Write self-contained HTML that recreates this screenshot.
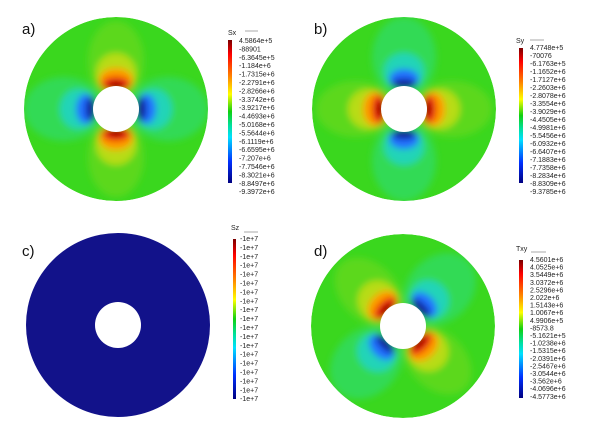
<!DOCTYPE html>
<html style="margin:0;padding:0;overflow:hidden;width:600px;height:434px"><head><meta charset="utf-8"><style>
body{margin:0;padding:0;background:#fff;width:600px;height:434px;overflow:hidden}
svg{display:block}
.lb{font-family:"Liberation Sans",sans-serif;font-size:7px;fill:#222}
.pl{font-family:"Liberation Sans",sans-serif;font-size:15px;fill:#111}
</style></head><body>
<svg width="600" height="434" viewBox="0 0 600 434" style="position:absolute;left:0;top:0;overflow:hidden">
<defs>
<filter id="bl" x="-20%" y="-20%" width="140%" height="140%"><feGaussianBlur stdDeviation="3.5"/></filter>
<clipPath id="cp"><circle cx="0" cy="0" r="92"/></clipPath>
<linearGradient id="cb" x1="0" y1="0" x2="0" y2="1">
<stop offset="0" stop-color="#7a0000"/><stop offset="0.1" stop-color="#ff0000"/>
<stop offset="0.25" stop-color="#ff8000"/><stop offset="0.38" stop-color="#ffff00"/>
<stop offset="0.5" stop-color="#10d010"/><stop offset="0.6" stop-color="#00e0a0"/>
<stop offset="0.68" stop-color="#00e0ff"/><stop offset="0.85" stop-color="#0030ff"/>
<stop offset="1" stop-color="#000080"/></linearGradient>
<g id="field">
<g clip-path="url(#cp)">
<circle r="92" fill="#3ad71e"/>
<g filter="url(#bl)">
<ellipse cx="0" cy="-48" rx="28" ry="40" fill="#5cd81c"/>
<ellipse cx="0" cy="48" rx="28" ry="40" fill="#5cd81c"/>
<ellipse cx="-52" cy="0" rx="40" ry="32" fill="#30da55"/>
<ellipse cx="52" cy="0" rx="40" ry="32" fill="#30da55"/>
<ellipse cx="0" cy="-36" rx="20" ry="20" fill="#b8dc14"/>
<ellipse cx="0" cy="36" rx="20" ry="20" fill="#b8dc14"/>
<ellipse cx="0" cy="-29" rx="17" ry="12" fill="#ff9a00"/>
<ellipse cx="0" cy="29" rx="17" ry="12" fill="#ff9a00"/>
<ellipse cx="0" cy="-25" rx="14" ry="7" fill="#e81010"/>
<ellipse cx="0" cy="25" rx="14" ry="7" fill="#e81010"/>
<ellipse cx="0" cy="-23" rx="8" ry="4" fill="#900000"/>
<ellipse cx="0" cy="23" rx="8" ry="4" fill="#900000"/>
<ellipse cx="-38" cy="0" rx="18" ry="20" fill="#20d4b8"/>
<ellipse cx="38" cy="0" rx="18" ry="20" fill="#20d4b8"/>
<ellipse cx="-30" cy="0" rx="10" ry="15" fill="#2070ff"/>
<ellipse cx="30" cy="0" rx="10" ry="15" fill="#2070ff"/>
<ellipse cx="-25" cy="0" rx="5" ry="12" fill="#0a0a90"/>
<ellipse cx="25" cy="0" rx="5" ry="12" fill="#0a0a90"/>
</g>
<circle r="23" fill="#fff"/>
</g>
</g>
</defs>

<text class="pl" x="22" y="34">a)</text>
<use href="#field" transform="translate(116,109)"/>
<text class="pl" x="314" y="34">b)</text>
<use href="#field" transform="translate(404,109) rotate(90)"/>
<text class="pl" x="22" y="256">c)</text>
<circle cx="118" cy="325" r="92" fill="#12128a"/>
<circle cx="118" cy="325" r="23" fill="#fff"/>
<text class="pl" x="314" y="256">d)</text>
<use href="#field" transform="translate(403,326) rotate(-45)"/>

<text class="lb" x="228" y="35">Sx</text><line x1="245" y1="31" x2="258" y2="31" stroke="#aaa"/>
<rect x="228" y="40" width="4" height="143" fill="url(#cb)"/>
<g class="lb">
<text x="239" y="43">4.5864e+5</text><text x="239" y="51.4">-88901</text><text x="239" y="59.8">-6.3645e+5</text><text x="239" y="68.2">-1.184e+6</text><text x="239" y="76.6">-1.7315e+6</text><text x="239" y="85">-2.2791e+6</text><text x="239" y="93.4">-2.8266e+6</text><text x="239" y="101.8">-3.3742e+6</text><text x="239" y="110.2">-3.9217e+6</text><text x="239" y="118.6">-4.4693e+6</text><text x="239" y="127">-5.0168e+6</text><text x="239" y="135.4">-5.5644e+6</text><text x="239" y="143.8">-6.1119e+6</text><text x="239" y="152.2">-6.6595e+6</text><text x="239" y="160.6">-7.207e+6</text><text x="239" y="169">-7.7546e+6</text><text x="239" y="177.4">-8.3021e+6</text><text x="239" y="185.8">-8.8497e+6</text><text x="239" y="194.2">-9.3972e+6</text>
</g>
<text class="lb" x="516" y="43">Sy</text><line x1="530" y1="40" x2="544" y2="40" stroke="#aaa"/>
<rect x="519" y="48" width="4" height="135" fill="url(#cb)"/>
<g class="lb">
<text x="530" y="50">4.7748e+5</text><text x="530" y="58">-70076</text><text x="530" y="66">-6.1763e+5</text><text x="530" y="74">-1.1652e+6</text><text x="530" y="82">-1.7127e+6</text><text x="530" y="90">-2.2603e+6</text><text x="530" y="98">-2.8078e+6</text><text x="530" y="106">-3.3554e+6</text><text x="530" y="114">-3.9029e+6</text><text x="530" y="122">-4.4505e+6</text><text x="530" y="130">-4.9981e+6</text><text x="530" y="138">-5.5456e+6</text><text x="530" y="146">-6.0932e+6</text><text x="530" y="154">-6.6407e+6</text><text x="530" y="162">-7.1883e+6</text><text x="530" y="170">-7.7358e+6</text><text x="530" y="178">-8.2834e+6</text><text x="530" y="186">-8.8309e+6</text><text x="530" y="194">-9.3785e+6</text>
</g>
<text class="lb" x="231" y="230">Sz</text><line x1="244" y1="232" x2="258" y2="232" stroke="#aaa"/>
<rect x="233" y="239" width="3" height="160" fill="url(#cb)"/>
<g class="lb">
<text x="240" y="241">-1e+7</text><text x="240" y="249.9">-1e+7</text><text x="240" y="258.8">-1e+7</text><text x="240" y="267.7">-1e+7</text><text x="240" y="276.6">-1e+7</text><text x="240" y="285.5">-1e+7</text><text x="240" y="294.4">-1e+7</text><text x="240" y="303.3">-1e+7</text><text x="240" y="312.2">-1e+7</text><text x="240" y="321.1">-1e+7</text><text x="240" y="330">-1e+7</text><text x="240" y="338.9">-1e+7</text><text x="240" y="347.8">-1e+7</text><text x="240" y="356.7">-1e+7</text><text x="240" y="365.6">-1e+7</text><text x="240" y="374.5">-1e+7</text><text x="240" y="383.4">-1e+7</text><text x="240" y="392.3">-1e+7</text><text x="240" y="401.2">-1e+7</text>
</g>
<text class="lb" x="516" y="251">Txy</text><line x1="531" y1="252" x2="546" y2="252" stroke="#aaa"/>
<rect x="519" y="260" width="4" height="138" fill="url(#cb)"/>
<g class="lb">
<text x="530" y="262">4.5601e+6</text><text x="530" y="269.6">4.0525e+6</text><text x="530" y="277.2">3.5449e+6</text><text x="530" y="284.8">3.0372e+6</text><text x="530" y="292.4">2.5296e+6</text><text x="530" y="300">2.022e+6</text><text x="530" y="307.6">1.5143e+6</text><text x="530" y="315.2">1.0067e+6</text><text x="530" y="322.8">4.9906e+5</text><text x="530" y="330.4">-8573.8</text><text x="530" y="338">-5.1621e+5</text><text x="530" y="345.6">-1.0238e+6</text><text x="530" y="353.2">-1.5315e+6</text><text x="530" y="360.8">-2.0391e+6</text><text x="530" y="368.4">-2.5467e+6</text><text x="530" y="376">-3.0544e+6</text><text x="530" y="383.6">-3.562e+6</text><text x="530" y="391.2">-4.0696e+6</text><text x="530" y="398.8">-4.5773e+6</text>
</g>
</svg>
</body></html>
